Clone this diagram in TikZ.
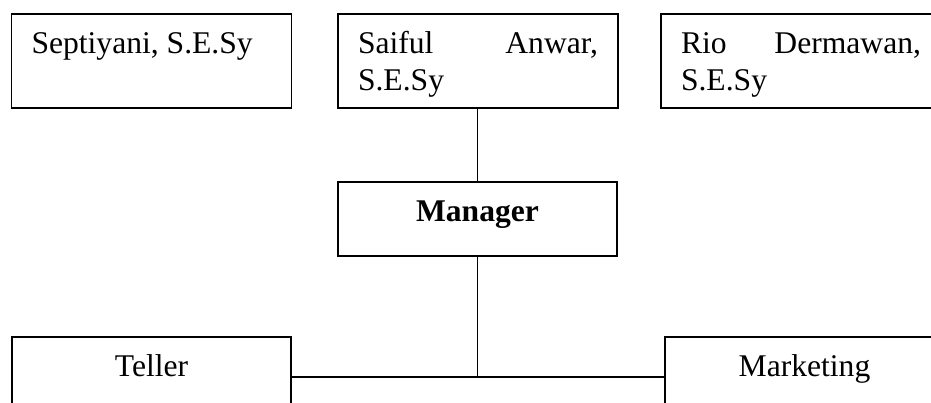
\documentclass[tikz,border=0pt]{standalone}
\usepackage{fontspec}
\setmainfont{Liberation Serif}
\newcommand{\boxtext}[1]{\parbox[c][94pt][t]{240pt}{\rule{0pt}{40pt}#1}}

\begin{document}
\begin{tikzpicture}[x=1pt, y=1pt, line width=1.9pt,
    every node/.style={font=\fontsize{31.6}{37}\selectfont},
    namebox/.style={draw, inner sep=0pt, minimum width=280pt, minimum height=94pt},
    unitbox/.style={draw, minimum width=279pt, minimum height=74pt, text height=21pt, text depth=15pt}]
        \path[use as bounding box, clip] (0,0) rectangle (931,403);

        \node[namebox] (sept) at (151.5, 342) {\boxtext{Septiyani, S.E.Sy}};
        \node[namebox] (saiful) at (478, 342) {\boxtext{Saiful\hfill Anwar,\\S.E.Sy}};
        \node[namebox] (rio) at (801, 342) {\boxtext{Rio\hfill Dermawan,\\S.E.Sy}};
        \node[unitbox] (manager) at (477.5, 184) {\bfseries Manager};
        \node[unitbox] (teller) at (151.5, 29) {Teller};
        \node[unitbox] (marketing) at (804.5, 29) {Marketing};
        \coordinate (hub) at (476, 26);

        \draw (manager.north) -- (manager.north |- saiful.south);
        \draw (manager.south) -- (manager.south |- hub);
        \draw (teller.east |- hub) -- (marketing.west |- hub);
\end{tikzpicture}
\end{document}
